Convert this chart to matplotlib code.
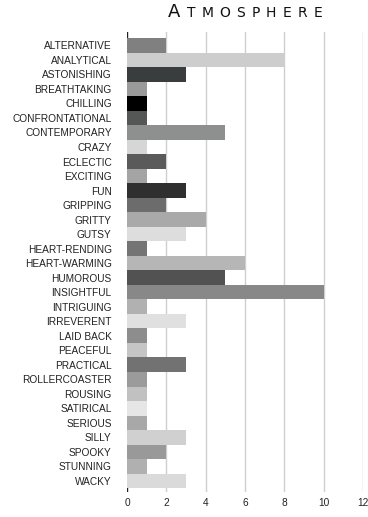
import matplotlib
matplotlib.use("Agg")
import matplotlib.pyplot as plt

CATEGORIES = [
    "ALTERNATIVE", "ANALYTICAL", "ASTONISHING", "BREATHTAKING", "CHILLING",
    "CONFRONTATIONAL", "CONTEMPORARY", "CRAZY", "ECLECTIC", "EXCITING", "FUN",
    "GRIPPING", "GRITTY", "GUTSY", "HEART-RENDING", "HEART-WARMING", "HUMOROUS",
    "INSIGHTFUL", "INTRIGUING", "IRREVERENT", "LAID BACK", "PEACEFUL",
    "PRACTICAL", "ROLLERCOASTER", "ROUSING", "SATIRICAL", "SERIOUS", "SILLY",
    "SPOOKY", "STUNNING", "WACKY",
]
COUNTS = [2, 8, 3, 1, 1, 1, 5, 1, 2, 1, 3, 2, 4, 3, 1, 6, 5, 10, 1, 3, 1, 1,
          3, 1, 1, 1, 1, 3, 2, 1, 3]
BAR_COLORS = [
    "#808080", "#cccdcc", "#3a3d3d", "#9a9a9a", "#000000", "#555757",
    "#8e908f", "#d5d6d5", "#5a5a5a", "#a3a4a3", "#2f2f2f", "#6b6c6b",
    "#a8a9a8", "#dcdddc", "#747474", "#b5b6b5", "#525252", "#878887",
    "#b0b1b0", "#dfe0df", "#8d8d8d", "#c5c5c5", "#727272", "#9b9b9b",
    "#c0c1c0", "#e5e6e5", "#a8a8a8", "#d0d0d0", "#999999", "#b0b0b0",
    "#d9dad9",
]
X_TICKS = [0, 2, 4, 6, 8, 10, 12]
TITLE = "ATMOSPHERE"

plt.rcParams["font.family"] = ["Liberation Sans", "DejaVu Sans"]

fig = plt.figure(figsize=(3.68, 5.17), dpi=100)
ax = fig.add_axes([0.345, 0.048, 0.641, 0.890])

n = len(CATEGORIES)
ypos = list(range(n))

# light vertical grid, dark zero line underneath the bars
for t in X_TICKS[1:]:
    ax.axvline(t, color="#cfcfcf", linewidth=1.0, zorder=0)
ax.axvline(0, color="#222222", linewidth=1.0, zorder=0)

ax.barh(ypos, COUNTS, height=1.0, color=BAR_COLORS, linewidth=0, zorder=2)

ax.set_xlim(0, 12)
ax.set_ylim(n - 0.5 + 0.28, -0.5 - 0.42)

ax.set_yticks(ypos)
ax.set_yticklabels(CATEGORIES, fontsize=7.3, color="#222222")
ax.tick_params(axis="y", length=0, pad=11)

ax.set_xticks(X_TICKS)
ax.set_xticklabels([str(t) for t in X_TICKS], fontsize=7.3, color="#222222")
ax.tick_params(axis="x", length=0, pad=4)

for s in ax.spines.values():
    s.set_visible(False)

# small-caps title with letter spacing, laid out glyph by glyph
renderer = fig.canvas.get_renderer()
glyphs = []
for i, ch in enumerate(TITLE):
    size = 13 if i == 0 else 10
    t = fig.text(0, 0.967, ch, fontsize=size, ha="left", va="baseline",
                 color="#111111", family="DejaVu Sans")
    glyphs.append(t)
widths = [g.get_window_extent(renderer).width for g in glyphs]
target = 154.0
gap = max(1.0, (target - sum(widths)) / (len(glyphs) - 1))
total = sum(widths) + gap * (len(glyphs) - 1)
x = 245.0 - total / 2
fig_w = fig.bbox.width
for g, w in zip(glyphs, widths):
    g.set_x(x / fig_w)
    x += w + gap

fig.savefig("out.png", dpi=100)
